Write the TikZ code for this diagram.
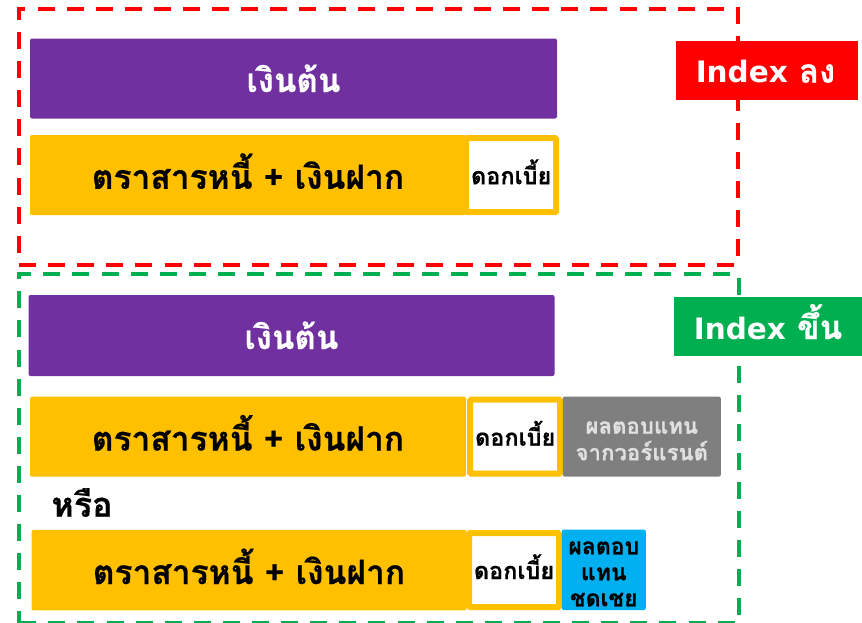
\documentclass[tikz,border=0pt]{standalone}
\usepackage{fontspec}
\setmainfont{Liberation Sans}
\newfontfamily\thaifont[Script=Thai,BoldFeatures={FakeBold=0.5}]{Loma}
\newfontfamily\latinfont{DejaVu Sans}
\definecolor{cpurple}{HTML}{7030A0}
\definecolor{cyellow}{HTML}{FFC000}
\definecolor{cgray}{HTML}{7F7F7F}
\definecolor{cblue}{HTML}{00B0F0}
\definecolor{cgreen}{HTML}{00B050}
\definecolor{cred}{HTML}{FF0000}
\newcommand{\thaisz}[2]{\thaifont\bfseries\fontsize{#1}{#2}\selectfont}
\newcommand{\latinword}[1]{{\latinfont\bfseries\fontsize{29.5}{34}\selectfont #1}}
\tikzset{
  blk/.style={inner sep=0pt,outer sep=0pt,rounded corners=2pt,align=center},
  principal/.style={blk,fill=cpurple,text=white,minimum width=527pt,minimum height=80pt,text height=27pt,text depth=0pt,font=\thaisz{33}{37}},
  bond/.style={blk,fill=cyellow,text=black,minimum width=436pt,minimum height=80pt,text height=27.6pt,text depth=0pt,font=\thaisz{33.5}{38}},
  coupon/.style={blk,fill=white,draw=cyellow,line width=6pt,rounded corners=1pt,text=black,minimum width=90pt,minimum height=74pt,text height=18pt,text depth=0pt,font=\thaisz{23.5}{27}},
  framered/.style={draw=cred,line width=4pt},
  framegreen/.style={draw=cgreen,line width=4pt},
  dashat/.style={dash pattern=on 17pt off 12.1pt,dash phase=#1},
  tag/.style={inner sep=0pt,outer sep=0pt,text=white,text depth=0pt,font=\thaisz{33}{37}},
}
\begin{document}
\begin{tikzpicture}[x=1pt,y=-1pt]
\useasboundingbox (0,0) rectangle (862,622);
% red dashed frame, side by side
\draw[framered,dashat=8.3pt] (16.7,9.2) -- (740,9.2);
\draw[framered,dashat=4.3pt] (18.7,7.2) -- (18.7,264.7);
\draw[framered,dashat=0.7pt] (738,7.2) -- (738,264.7);
\draw[framered,dashat=0pt] (19,264.7) -- (736,264.7);
% green dashed frame, side by side
\draw[framegreen,dashat=2.5pt] (16.7,274.3) -- (731,274.3);
\draw[framegreen,dashat=10.1pt] (18.7,272.3) -- (18.7,624);
\draw[framegreen,dashat=0pt] (738.7,278.3) -- (738.7,616);
\draw[framegreen,dashat=0pt] (19.2,622.7) -- (736,622.7);

\node[principal] (p1) at (293.5,78.5) {เงินต้น};
\node[bond] (b1) at (248,175) {ตราสารหนี้ + เงินฝาก};
\node[coupon] (c1) at (511.2,175.2) {ดอกเบี้ย};

\node[principal,minimum width=526pt,minimum height=81pt] (p2) at (291.5,335.5) {เงินต้น};
\node[bond] (b2) at (248,436.7) {ตราสารหนี้ + เงินฝาก};
\node[coupon,minimum width=90pt] (c2) at (515.2,436.7) {ดอกเบี้ย};
\node[blk,fill=cgray,text=white!88!black,minimum width=158pt,minimum height=80pt,font=\thaisz{22.2}{26.6}] (w) at (641.8,436.6) {\rule{0pt}{21pt}ผลตอบแทน\\จากวอร์แรนต์};

\node[inner sep=0pt,font=\thaisz{34}{38}] (or) at (82,502.5) {หรือ};

\node[bond,minimum width=435pt,minimum height=80.5pt] (b3) at (249,570.2) {ตราสารหนี้ + เงินฝาก};
\node[coupon,minimum width=90pt] (c3) at (514,570) {ดอกเบี้ย};
\node[blk,fill=cblue,text=black,minimum width=84pt,minimum height=80.5pt,font=\thaisz{23}{26}] (s) at (603.8,569.8) {\rule{0pt}{21pt}ผลตอบ\\แทน\\ชดเชย};

\node[tag,fill=cred,minimum width=182pt,minimum height=59pt,text height=24.4pt] (tagdown) at (767,70.5) {\latinword{Index} ลง\kern3pt};
\node[tag,fill=cgreen,minimum width=188pt,minimum height=59pt,text height=25pt] (tagup) at (768,326.5) {\latinword{Index} ขึ้น};
\end{tikzpicture}
\end{document}
